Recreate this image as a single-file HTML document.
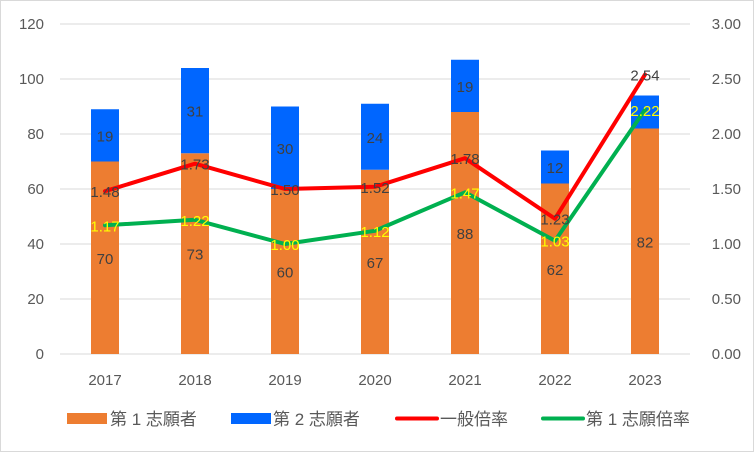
<!DOCTYPE html>
<html><head><meta charset="utf-8"><style>
body{margin:0;background:#fff}
svg text{font-family:"Liberation Sans","Noto Sans CJK JP",sans-serif}
</style></head><body>
<svg id="c" width="754" height="452" xmlns="http://www.w3.org/2000/svg">
<rect x="0.5" y="0.5" width="753" height="451" fill="#fff" stroke="#d9d9d9"/>
<g id="grid"></g><g id="bars"></g><g id="lines"></g><g id="labels"></g><g id="axes"></g>
<g font-size="17" fill="#595959">
<rect x="67" y="413" width="40" height="11" fill="#ed7d31"/>
<text x="110" y="425">第 1 志願者</text>
<rect x="231" y="413" width="40" height="11" fill="#0066ff"/>
<text x="273" y="425">第 2 志願者</text>
<line x1="397" y1="418.5" x2="437" y2="418.5" stroke="#ff0000" stroke-width="4" stroke-linecap="round"/>
<text x="440" y="425">一般倍率</text>
<line x1="543" y1="418.5" x2="583" y2="418.5" stroke="#00b050" stroke-width="4" stroke-linecap="round"/>
<text x="586" y="425">第 1 志願倍率</text>
</g>
</svg>
<script>
const categories=["2017","2018","2019","2020","2021","2022","2023"];
const firstApplicants=[70,73,60,67,88,62,82];
const secondApplicants=[19,31,30,24,19,12,12];
const generalRate=[1.48,1.73,1.50,1.52,1.78,1.23,2.54];
const firstRate=[1.17,1.22,1.00,1.12,1.47,1.03,2.22];
const leftTicks=[0,20,40,60,80,100,120];
const rightTicks=["0.00","0.50","1.00","1.50","2.00","2.50","3.00"];

const NS="http://www.w3.org/2000/svg";
const x0=60,x1=690,yTop=24,yBot=354;
const yL=v=>yBot-(v/120)*(yBot-yTop);
const yR=v=>yBot-(v/3)*(yBot-yTop);
const band=(x1-x0)/categories.length;
const xC=i=>x0+band*(i+0.5);
function mk(tag,attrs,parent){const e=document.createElementNS(NS,tag);for(const k in attrs)e.setAttribute(k,attrs[k]);document.getElementById(parent).appendChild(e);return e;}

leftTicks.forEach((t,i)=>{
  const l=mk('line',{x1:x0,x2:x1,y1:yL(t),y2:yL(t),stroke:'#d9d9d9','stroke-width':1},'grid');
  
  
  const a=mk('text',{x:44,y:yL(t)+5,'text-anchor':'end','font-size':15,fill:'#595959'},'axes');
  a.textContent=t;
  
  
  const b=mk('text',{x:741,y:yR(i*0.5)+5,'text-anchor':'end','font-size':15,fill:'#595959'},'axes');
  b.textContent=rightTicks[i];
  
  
});
categories.forEach((c,i)=>{
  const t=mk('text',{x:xC(i),y:385,'text-anchor':'middle','font-size':15,fill:'#595959'},'axes');
  t.textContent=c;
  
  
  const w=28,x=xC(i)-w/2;
  const b1=mk('rect',{x:x,y:yL(firstApplicants[i]),width:w,height:yBot-yL(firstApplicants[i]),fill:'#ed7d31'},'bars');
  
  
  const top=firstApplicants[i]+secondApplicants[i];
  const b2=mk('rect',{x:x,y:yL(top),width:w,height:yL(firstApplicants[i])-yL(top),fill:'#0066ff'},'bars');
  
  
  const l1=mk('text',{x:xC(i),y:(yL(firstApplicants[i])+yBot)/2+6,'text-anchor':'middle','font-size':15,fill:'#404040'},'labels');
  l1.textContent=firstApplicants[i];
  
  
  if(i<categories.length-1){
    const l2=mk('text',{x:xC(i),y:(yL(top)+yL(firstApplicants[i]))/2+6,'text-anchor':'middle','font-size':15,fill:'#404040'},'labels');
    l2.textContent=secondApplicants[i];
    
    
  }
});
function line(vals,color,name,lblColor){
  const p=mk('polyline',{points:vals.map((v,i)=>xC(i)+','+yR(v)).join(' '),fill:'none',stroke:color,'stroke-width':4,'stroke-linejoin':'round','stroke-linecap':'round'},'lines');
  
  
  vals.forEach((v,i)=>{
    const t=mk('text',{x:xC(i),y:yR(v)+6,'text-anchor':'middle','font-size':15,fill:lblColor},'labels');
    t.textContent=v.toFixed(2);
    
    
  });
}
line(generalRate,'#ff0000','general-rate-line','#404040');
line(firstRate,'#00b050','first-rate-line','#ffff00');
</script>
</body></html>
